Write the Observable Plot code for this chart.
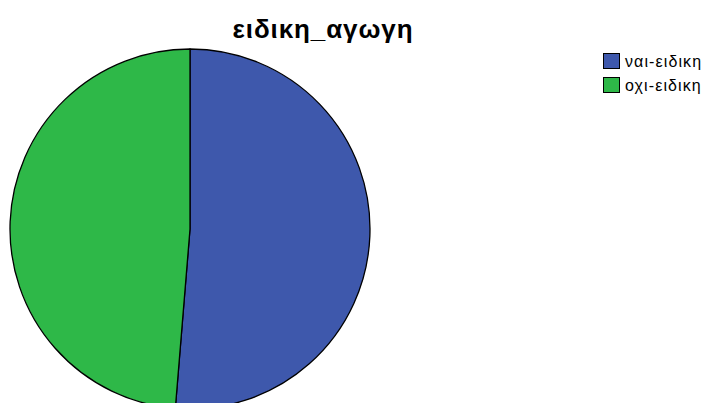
<!DOCTYPE html>
<html>
<head>
<meta charset="utf-8">
<script src="https://cdn.jsdelivr.net/npm/d3@7"></script>
<script src="https://cdn.jsdelivr.net/npm/@observablehq/plot@0.6"></script>
<style>
  html, body { margin: 0; padding: 0; background: #fff; }
  #wrap { position: relative; width: 706px; height: 403px; overflow: hidden; }
  #title { position: absolute; left: 0; top: 14px; width: 646px; text-align: center; font-family: "Liberation Sans", Arial, sans-serif; font-weight: bold; font-size: 26px; letter-spacing: 0.9px; color: #000; }
  #legend { position: absolute; left: 603px; top: 49px; font-family: "Liberation Sans", Arial, sans-serif; font-size: 16px; letter-spacing: 1.1px; color: #000; }
  .item { display: flex; align-items: center; height: 24px; white-space: nowrap; }
  .item span { position: relative; top: 1px; }
  .sw { width: 17px; height: 16px; border: 1px solid #000; margin-right: 5px; box-sizing: border-box; }
</style>
</head>
<body>
<div id="wrap">
  <div id="chart"></div>
  <div id="title"></div>
  <div id="legend"></div>
</div>
<script>
const title = "ειδικη_αγωγη";
const categories = ["ναι-ειδικη", "οχι-ειδικη"];
const values = [51.3, 48.7];
const colors = ["#3E58AC", "#2EB848"];

const data = categories.map((c, i) => ({category: c, value: values[i]}));

function pieMark(index, scales, vals, dimensions, context) {
  const x = scales.x, y = scales.y, color = scales.color;
  const cx = x(0), cy = y(0), r = x(1) - x(0);
  const arcs = d3.pie().sort(null).value(d => d.value)(data);
  const arc = d3.arc().innerRadius(0).outerRadius(r);
  const g = d3.create("svg:g").attr("transform", `translate(${cx},${cy})`);
  g.selectAll("path").data(arcs).join("path")
    .attr("d", arc)
    .attr("fill", d => color(d.data.category))
    .attr("stroke", "#000")
    .attr("stroke-width", 1.3)
    .attr("stroke-linejoin", "round");
  return g.node();
}

const plot = Plot.plot({
  width: 706,
  height: 403,
  margin: 0,
  x: {domain: [-1, 1], range: [10, 370], axis: null},
  y: {domain: [-1, 1], range: [409, 49], axis: null},
  color: {domain: categories, range: colors},
  marks: [pieMark]
});
document.getElementById("chart").appendChild(plot);

document.getElementById("title").textContent = title;
const leg = d3.select("#legend");
categories.forEach((c, i) => {
  const it = leg.append("div").attr("class", "item");
  it.append("div").attr("class", "sw").style("background", colors[i]);
  it.append("span").text(c);
});
</script>
</body>
</html>
